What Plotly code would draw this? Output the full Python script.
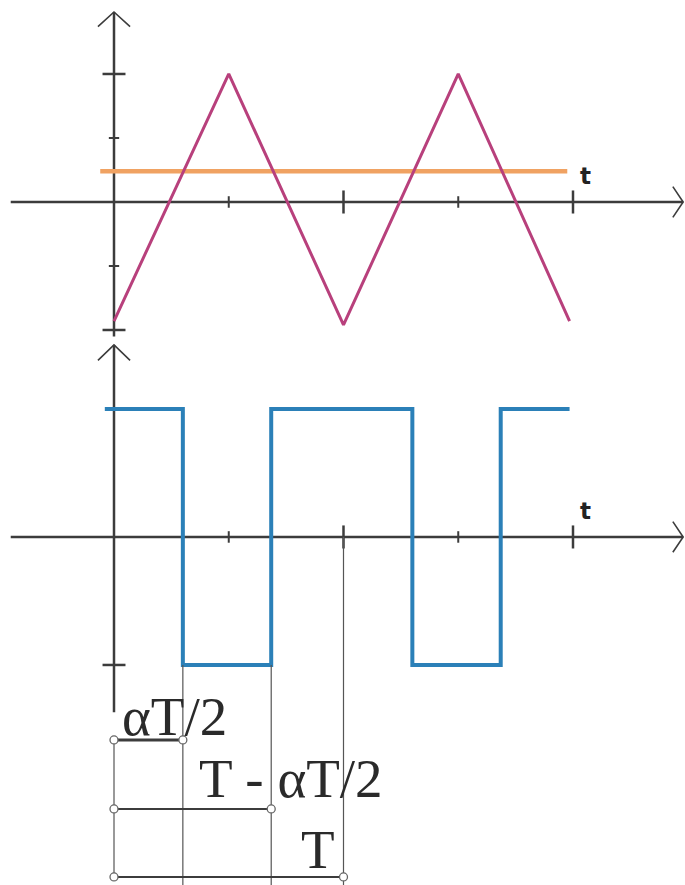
import plotly.graph_objects as go

# ---- data (t in units of T/2, amplitudes normalised) ----
tri_t = [0.0, 1.0, 2.0, 3.0, 3.97]
tri_v = [-0.93, 1.0, -0.96, 1.0, -0.93]

ref_t = [-0.12, 3.95]
ref_v = [0.24, 0.24]

pwm_t = [-0.08, 0.6, 0.6, 1.37, 1.37, 2.6, 2.6, 3.37, 3.37, 3.97]
pwm_v = [1.0, 1.0, -1.0, -1.0, 1.0, 1.0, -1.0, -1.0, 1.0, 1.0]

x_ticks_small = [1, 3]
x_ticks_big = [2, 4]
y_ticks_big = [1, -1]
y_ticks_small = [0.5, -0.5]

dim_labels = ["αT/2", "T - αT/2", "T"]
dim_ends = [0.6, 1.37, 2.0]
dim_levels = [-1.586, -2.125, -2.656]
dim_label_x = [0.05, 0.72, 1.61]
dim_label_y = [-1.40, -1.89, -2.44]

AX = "#3c3c3c"
MAG = "#b8407c"
ORG = "#f0a262"
BLU = "#2b80b8"

fig = go.Figure()

def line(xs, ys, color=AX, width=2.5, yaxis="y"):
    fig.add_trace(go.Scatter(x=xs, y=ys, mode="lines", yaxis=yaxis,
                             line=dict(color=color, width=width),
                             hoverinfo="skip", showlegend=False))

# ---------- top panel axes ----------
line([-0.9, 4.96], [0, 0])
line([0, 0], [-1.05, 1.484])
line([-0.14, 0, 0.14], [1.37, 1.484, 1.37], width=1.6)
line([4.87, 4.96, 4.87], [0.12, 0, -0.12], width=1.6)
for t in x_ticks_small:
    line([t, t], [-0.045, 0.045], width=2)
for t in x_ticks_big:
    line([t, t], [-0.09, 0.09], width=2.5)
for v in y_ticks_big:
    line([-0.1, 0.1], [v, v], width=2.5)
for v in y_ticks_small:
    line([-0.045, 0.045], [v, v], width=2)

# ---------- bottom panel axes ----------
line([-0.9, 4.96], [0, 0], yaxis="y2")
line([0, 0], [-1.37, 1.5], yaxis="y2")
line([-0.14, 0, 0.14], [1.38, 1.5, 1.38], width=1.6, yaxis="y2")
line([4.87, 4.96, 4.87], [0.12, 0, -0.12], width=1.6, yaxis="y2")
for t in x_ticks_small:
    line([t, t], [-0.045, 0.045], width=2, yaxis="y2")
for t in x_ticks_big:
    line([t, t], [-0.09, 0.09], width=2.5, yaxis="y2")
line([-0.1, 0.1], [-1, -1], width=2.5, yaxis="y2")

# ---------- signals ----------
line(ref_t, ref_v, color=ORG, width=4.5)
line(tri_t, tri_v, color=MAG, width=3)
line(pwm_t, pwm_v, color=BLU, width=4, yaxis="y2")

# ---------- dimension lines ----------
line([0, 0], [-1.586, -2.656], color="#555555", width=1.2, yaxis="y2")
for e in dim_ends:
    line([e, e], [-1.0 if e < 1.9 else 0, -2.72], color="#555555", width=1.2, yaxis="y2")
for i, (e, lv) in enumerate(zip(dim_ends, dim_levels)):
    line([0, e], [lv, lv], color="#3c3c3c", width=3 if i == 0 else 2, yaxis="y2")
    fig.add_trace(go.Scatter(x=[0, e], y=[lv, lv], mode="markers", yaxis="y2",
                             marker=dict(symbol="circle", size=8, color="white",
                                         line=dict(color="#666666", width=1.3)),
                             hoverinfo="skip", showlegend=False))

for txt, lx, ly in zip(dim_labels, dim_label_x, dim_label_y):
    fig.add_annotation(x=lx, y=ly, xref="x", yref="y2", text=txt, showarrow=False,
                       xanchor="left", yanchor="middle",
                       font=dict(family="Liberation Serif", size=55, color="#2a2a2a"))

for yr in ["y", "y2"]:
    fig.add_annotation(x=4.04, y=0.2, xref="x", yref=yr,
                       text="<b>t</b>", showarrow=False, xanchor="left", yanchor="middle",
                       font=dict(family="DejaVu Sans", size=23, color="#222222"))

fig.update_layout(
    width=685, height=885, autosize=False,
    margin=dict(l=0, r=0, t=0, b=0, pad=0),
    paper_bgcolor="white", plot_bgcolor="white",
    xaxis=dict(range=[-0.9935, 4.976], visible=False, showgrid=False, zeroline=False),
    yaxis=dict(range=[-5.336, 1.578], visible=False, showgrid=False, zeroline=False),
    yaxis2=dict(range=[-2.719, 4.195], visible=False, showgrid=False, zeroline=False,
                overlaying="y"),
)

fig.write_html("out.html", config={"displayModeBar": False},
               post_script="document.body.style.margin='0';")
